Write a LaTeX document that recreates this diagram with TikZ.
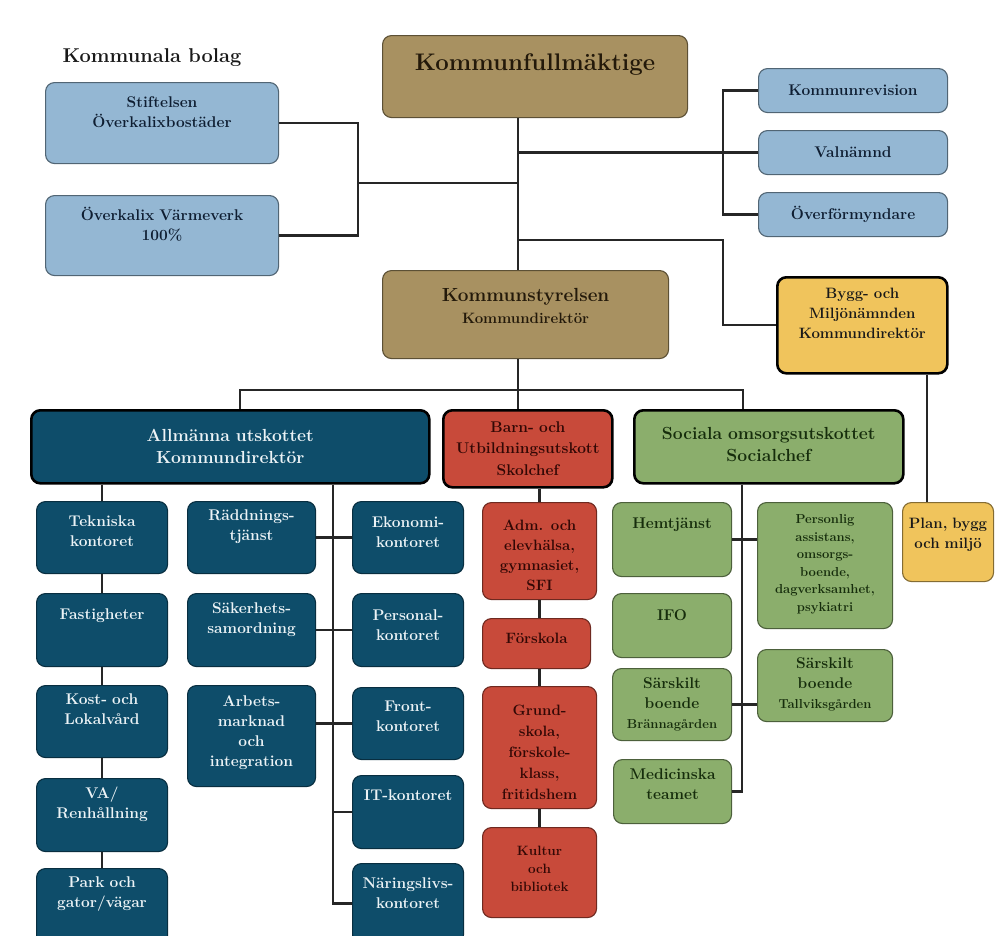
\documentclass[tikz,border=0pt]{standalone}
\usepackage{xcolor}
\usepackage{tikz}
\usetikzlibrary{calc}
\definecolor{tanc}{RGB}{168,145,97}
\definecolor{tantxt}{RGB}{35,25,10}
\definecolor{lbc}{RGB}{148,183,211}
\definecolor{lbtxt}{RGB}{15,30,50}
\definecolor{tealc}{RGB}{14,77,106}
\definecolor{tealtxt}{RGB}{236,243,246}
\definecolor{redc}{RGB}{200,74,58}
\definecolor{redtxt}{RGB}{50,8,5}
\definecolor{grc}{RGB}{139,174,108}
\definecolor{grtxt}{RGB}{22,45,12}
\definecolor{yec}{RGB}{240,196,92}
\newcommand{\fsz}[2]{\fontsize{#1}{#2}\selectfont}
\tikzset{
  box/.style={anchor=north west, inner sep=0pt, align=center, rounded corners=9pt, line width=1.1pt},
  sz/.style n args={3}{text width=#1pt, text height=#2pt, text depth=#3pt},
  heavy/.style={draw=black, line width=2.6pt},
  link/.style={draw=black!85, line width=2.2pt},
  tanbox/.style={box, fill=tanc, draw=tanc!55!black, text=tantxt},
  lbbox/.style={box, fill=lbc, draw=lbc!55!black, text=lbtxt, font=\bfseries\fsz{15.5}{20}},
  tealbox/.style={box, fill=tealc, draw=tealc!60!black, text=tealtxt, font=\bfseries\fsz{15.5}{20}},
  redbox/.style={box, fill=redc, draw=redc!55!black, text=redtxt, font=\bfseries\fsz{15}{20}},
  grbox/.style={box, fill=grc, draw=grc!55!black, text=grtxt, font=\bfseries\fsz{15.5}{20}},
  yebox/.style={box, fill=yec, draw=yec!55!black, text=black!90, font=\bfseries\fsz{15}{20}}
}

\begin{document}
\begin{tikzpicture}[x=1pt, y=-1pt]
  \useasboundingbox (0,0) rectangle (995,935);
  \clip (0,0) rectangle (995,935);

  % top level
  \node[font=\bfseries\fsz{20}{24}, anchor=base, text=black!90] (bolag) at (152,62) {Kommunala bolag};
  \node[tanbox, sz={305}{35}{47}, font=\bfseries\fsz{24}{28}] (kf) at (382,35) {Kommunfullmäktige};
  \node[tanbox, sz={286}{31}{57}, font=\bfseries\fsz{19}{22}] (ks) at (382,270) {Kommunstyrelsen\\{\fsz{15}{22}Kommundirektör}};
  \node[lbbox, sz={233}{25}{56}] (stift) at (45,82) {Stiftelsen\\Överkalixbostäder};
  \node[lbbox, sz={233}{25}{55}] (varme) at (45,195) {Överkalix Värmeverk\\100\%};
  \node[lbbox, sz={189}{27}{17}] (rev) at (758,68) {Kommunrevision};
  \node[lbbox, sz={189}{27}{17}] (valn) at (758,130) {Valnämnd};
  \node[lbbox, sz={189}{27}{17}] (overf) at (758,192) {Överförmyndare};
  \node[yebox, heavy, sz={170}{21}{75}] (bygg) at (776,276) {Bygg- och\\Miljönämnden\\Kommundirektör};

  % utskott
  \node[tealbox, heavy, sz={398}{31}{42}, font=\bfseries\fsz{17.5}{22}] (allm) at (30,409) {Allmänna utskottet\\Kommundirektör};
  \node[redbox, heavy, sz={169}{22}{55}, font=\bfseries\fsz{15.5}{21.5}] (barn) at (442,409) {Barn- och\\Utbildningsutskott\\Skolchef};
  \node[grbox, heavy, sz={269}{29}{44}, font=\bfseries\fsz{17.5}{22}] (soc) at (633,409) {Sociala omsorgsutskottet\\Socialchef};

  % allmanna utskottet
  \node[tealbox, sz={131}{25}{47}] (tek) at (36,501) {Tekniska\\kontoret};
  \node[tealbox, sz={131}{26}{47}] (fast) at (36,593) {Fastigheter};
  \node[tealbox, sz={131}{19}{53}] (kost) at (36,685) {Kost- och\\Lokalvård};
  \node[tealbox, sz={131}{20}{53}] (va) at (36,778) {VA/\\Renhållning};
  \node[tealbox, sz={131}{19}{58}] (park) at (36,868) {Park och\\gator/vägar};
  \node[tealbox, sz={128}{19}{53}] (radd) at (187,501) {Räddnings-\\tjänst};
  \node[tealbox, sz={128}{20}{53}] (sak) at (187,593) {Säkerhets-\\samordning};
  \node[tealbox, sz={128}{21}{80}] (arb) at (187,685) {Arbets-\\marknad\\och\\integration};
  \node[tealbox, sz={111}{26}{46}] (eko) at (352,501) {Ekonomi-\\kontoret};
  \node[tealbox, sz={111}{27}{46}] (pers) at (352,593) {Personal-\\kontoret};
  \node[tealbox, sz={111}{24}{48}] (front) at (352,687) {Front-\\kontoret};
  \node[tealbox, sz={111}{25}{48}] (it) at (352,775) {IT-kontoret};
  \node[tealbox, sz={111}{25}{55}] (nar) at (352,863) {Näringslivs-\\kontoret};

  % barn och utbildning
  \node[redbox, sz={114}{28}{69}] (adm) at (482,502) {Adm. och\\elevhälsa,\\gymnasiet,\\SFI};
  \node[redbox, sz={108}{25}{25}] (forsk) at (482,618) {Förskola};
  \node[redbox, sz={114}{29}{93}, font=\bfseries\fsz{15}{21}] (grund) at (482,686) {Grund-\\skola,\\förskole-\\klass,\\fritidshem};
  \node[redbox, sz={114}{28}{62}, font=\bfseries\fsz{13.5}{18}] (kultur) at (482,827) {Kultur\\och\\bibliotek};

  % sociala omsorg
  \node[grbox, sz={119}{26}{48}] (hem) at (612,502) {Hemtjänst};
  \node[grbox, sz={119}{27}{37}] (ifo) at (612,593) {IFO};
  \node[grbox, sz={119}{20}{52}] (bran) at (612,668) {Särskilt\\boende\\{\fsz{13}{20}Brännagården}};
  \node[grbox, sz={118}{20}{44}] (med) at (613,759) {Medicinska\\teamet};
  \node[grbox, sz={135}{21}{105}, font=\bfseries\fsz{13}{17.5}] (pa) at (757,502) {Personlig\\assistans,\\omsorgs-\\boende,\\dagverksamhet,\\psykiatri};
  \node[grbox, sz={135}{19}{53}] (tall) at (757,649) {Särskilt\\boende\\{\fsz{13}{20}Tallviksgården}};
  \node[yebox, sz={91}{26}{53}] (plan) at (902,502) {Plan, bygg\\och miljö};

  \coordinate (trunk) at (518,0);
  \coordinate (cj) at (358,183);
  \coordinate (rj) at (723,0);
  \coordinate (bj) at (723,240);
  \coordinate (aj) at (240,390);
  \coordinate (sj) at (743,390);
  \coordinate (rt) at (333,0);
  \coordinate (gt) at (742,0);
  \coordinate (pj) at (927,0);

  % connectors top
  \draw[link] (kf.south -| trunk) -- (ks.north -| trunk);
  \draw[link] (stift.east) -| (cj) |- (varme.east);
  \draw[link] (cj) -- (cj -| trunk);
  \draw[link] (rev.west) -- (rev.west -| rj) -- (overf.west -| rj) -- (overf.west);
  \draw[link] (valn.west -| trunk) -- (valn.west);
  \draw[link] (bj -| trunk) -- (bj) |- (bygg.west);
  \draw[link] (bygg.south -| pj) -- (plan.north -| pj);

  % connectors utskott
  \draw[link] (ks.south -| trunk) -- (barn.north -| trunk);
  \draw[link] (allm.north -| aj) -- (aj) -- (sj) -- (soc.north -| sj);

  \draw[link] (allm.south -| tek.north) -- (tek.north);
  \foreach \a/\b in {tek/fast, fast/kost, kost/va, va/park}
    \draw[link] (\a.south) -- (\a.south |- \b.north);
  \draw[link] (allm.south -| rt) -- (nar.west -| rt) -- (nar.west);
  \foreach \a/\b in {radd/eko, sak/pers, arb/front}
    \draw[link] (\a.east |- \b.west) -- (\b.west);
  \draw[link] (it.west -| rt) -- (it.west);

  \draw[link] (barn.south -| adm.north) -- (adm.north);
  \foreach \a/\b in {adm/forsk, forsk/grund, grund/kultur}
    \draw[link] (\a.south -| adm.north) -- (\b.north -| adm.north);

  \draw[link] (soc.south -| gt) -- (med.east -| gt) -- (med.east);
  \draw[link] (hem.east) -- (hem.east -| pa.west);
  \draw[link] (bran.east) -- (bran.east -| tall.west);
\end{tikzpicture}
\end{document}
